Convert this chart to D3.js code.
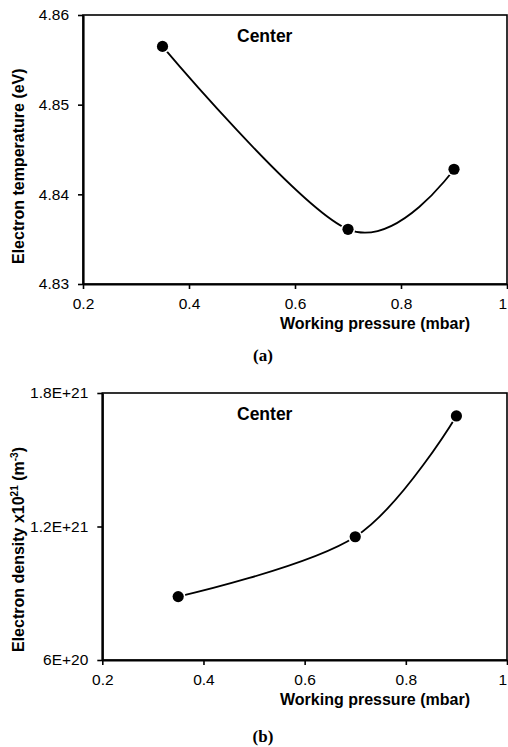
<!DOCTYPE html>
<html>
<head>
<meta charset="utf-8">
<script src="https://cdn.jsdelivr.net/npm/d3@7"></script>
<style>
  html, body { margin: 0; padding: 0; background: #fff; }
  svg { display: block; }
</style>
</head>
<body>
<svg id="fig" width="508" height="747" font-family="'Liberation Sans', Arial, sans-serif"></svg>
<script>
// Working pressure (mbar) at the centre measurement position
const pressure = [0.35, 0.70, 0.90];
// Panel (a): electron temperature (eV)
const electronTemp = [4.8565, 4.8361, 4.8428];
// Panel (b): electron density (m^-3)
const electronDensity = [8.85e20, 1.154e21, 1.697e21];

const xTicks = [0.2, 0.4, 0.6, 0.8, 1];
const xTickLabels = ["0.2", "0.4", "0.6", "0.8", "1"];
const tempTicks = [4.83, 4.84, 4.85, 4.86];
const tempTickLabels = ["4.83", "4.84", "4.85", "4.86"];
const densityTicks = [6e20, 1.2e21, 1.8e21];
const densityTickLabels = ["6E+20", "1.2E+21", "1.8E+21"];

const SANS = "'Liberation Sans', Arial, sans-serif";
const SERIF = "'Liberation Serif', 'Times New Roman', serif";
const svg = d3.select("#fig");

function drawPanel(o) {
  const g = svg.append("g");
  const x = d3.scaleLinear().domain([0.2, 1]).range([o.left, o.right]);
  const y = d3.scaleLinear().domain(o.yDomain).range([o.bottom, o.top]);

  // plot frame
  g.append("rect")
    .attr("x", o.left).attr("y", o.top)
    .attr("width", o.right - o.left).attr("height", o.bottom - o.top)
    .attr("fill", "none").attr("stroke", "#000").attr("stroke-width", 1.6);

  const xAxis = g.append("g")
    .attr("transform", `translate(0,${o.bottom})`)
    .call(d3.axisBottom(x).tickValues(xTicks)
      .tickFormat((d, i) => xTickLabels[i])
      .tickSize(5).tickSizeOuter(0).tickPadding(8.5));
  const yAxis = g.append("g")
    .attr("transform", `translate(${o.left},0)`)
    .call(d3.axisLeft(y).tickValues(o.yTicks)
      .tickFormat((d, i) => o.yTickLabels[i])
      .tickSize(5).tickSizeOuter(0).tickPadding(9));

  [xAxis, yAxis].forEach(a => {
    a.attr("font-family", SANS).attr("font-size", 15.5);
    a.select(".domain").attr("stroke", "#000").attr("stroke-width", 2.2);
    a.selectAll(".tick line").attr("stroke", "#000").attr("stroke-width", 1.6);
    a.selectAll(".tick text").attr("fill", "#000");
  });
  // the last x label sits against the right edge of the page
  xAxis.selectAll(".tick text")
    .filter(d => d === xTicks[xTicks.length - 1])
    .attr("text-anchor", "end").attr("dx", -0.5);

  const pts = pressure.map((p, i) => [x(p), y(o.values[i])]);

  // smoothed connecting line
  g.append("path")
    .attr("d", d3.line().curve(d3.curveCardinal.tension(0))(pts))
    .attr("fill", "none").attr("stroke", "#000").attr("stroke-width", 1.8);

  // markers with a thin white halo
  g.selectAll("circle.halo").data(pts).join("circle")
    .attr("class", "halo").attr("cx", d => d[0]).attr("cy", d => d[1])
    .attr("r", 7.2).attr("fill", "#fff");
  g.selectAll("circle.dot").data(pts).join("circle")
    .attr("class", "dot").attr("cx", d => d[0]).attr("cy", d => d[1])
    .attr("r", 5.6).attr("fill", "#000");

  // in-plot tag
  g.append("text")
    .attr("x", 237).attr("y", o.top + 27)
    .attr("font-size", 17.5).attr("font-weight", "bold")
    .text("Center");

  // x-axis title
  g.append("text")
    .attr("x", 375).attr("y", o.bottom + 44.5)
    .attr("text-anchor", "middle")
    .attr("font-size", 16).attr("font-weight", "bold")
    .text("Working pressure (mbar)");

  // y-axis title
  const yt = g.append("text")
    .attr("transform", `translate(24,${o.yTitleStart}) rotate(-90)`)
    .attr("text-anchor", "start")
    .attr("font-size", 16).attr("font-weight", "bold");
  o.yTitle(yt);

  // panel caption
  g.append("text")
    .attr("x", 263).attr("y", o.captionY)
    .attr("text-anchor", "middle")
    .attr("font-family", SERIF)
    .attr("font-size", 17).attr("font-weight", "bold")
    .text(o.caption);
}

drawPanel({
  left: 83, right: 507, top: 15, bottom: 284,
  yDomain: [4.83, 4.86],
  yTicks: tempTicks, yTickLabels: tempTickLabels,
  values: electronTemp,
  yTitleStart: 264,
  yTitle: t => t.text("Electron temperature (eV)"),
  caption: "(a)", captionY: 361
});

drawPanel({
  left: 102.3, right: 507, top: 393, bottom: 660,
  yDomain: [6e20, 1.8e21],
  yTicks: densityTicks, yTickLabels: densityTickLabels,
  values: electronDensity,
  yTitleStart: 652,
  yTitle: t => {
    t.append("tspan").text("Electron density x10");
    t.append("tspan").attr("font-size", 10).attr("dy", -6).text("21");
    t.append("tspan").attr("dy", 6).text(" (m");
    t.append("tspan").attr("font-size", 10).attr("dy", -6).text("-3");
    t.append("tspan").attr("dy", 6).text(")");
  },
  caption: "(b)", captionY: 742
});
</script>
</body>
</html>
